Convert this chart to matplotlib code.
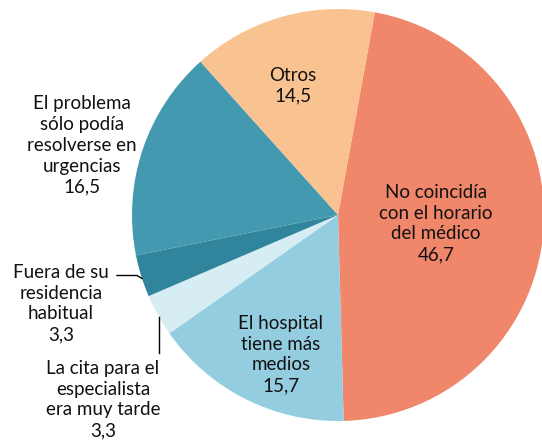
import matplotlib
matplotlib.use("Agg")
from matplotlib import pyplot as plt

labels = ["No coincidía\ncon el horario\ndel médico", "El hospital\ntiene más\nmedios",
          "La cita para el\nespecialista\nera muy tarde", "Fuera de su\nresidencia\nhabitual",
          "El problema\nsólo podía\nresolverse en\nurgencias", "Otros"]
values = [46.7, 15.7, 3.3, 3.3, 16.5, 14.5]
colors = ["#F0866A", "#95CDE0", "#D6EDF3", "#30849B", "#4399B0", "#F9C291"]

plt.rcParams['font.family'] = ['Lato', 'DejaVu Sans']

fig = plt.figure(figsize=(5.42, 4.42), dpi=100)
# pie centre ~ (338, 215) px, radius ~206 px
ax = fig.add_axes([132/542, 21/442, 412/542, 412/442])
ax.pie(values, colors=colors, startangle=79.7, counterclock=False, radius=1)
ax.set_xlim(-1, 1)
ax.set_ylim(-1, 1)
ax.set_aspect('equal')


def px(x, y):
    return (x - 338) / 206, (215.5 - y) / 206


def fmt(v):
    return str(v).replace('.', ',')


# label positions (pixel centres) for each slice
pos = [(436, 224), (281, 355), (103, 400), (61, 304), (82, 146), (293, 86)]
for lab, v, p in zip(labels, values, pos):
    x, y = px(*p)
    ax.text(x, y, lab + "\n" + fmt(v), ha='center', va='center', fontsize=13.5,
            linespacing=1.28, color='#111111', clip_on=False)

# leader lines
lx, ly = zip(px(117, 276), px(137, 276), px(142, 279))
ax.plot(lx, ly, color='black', lw=1, clip_on=False)
lx, ly = zip(px(159, 318), px(159, 353))
ax.plot(lx, ly, color='black', lw=1, clip_on=False)

fig.savefig("out.png", dpi=100)
